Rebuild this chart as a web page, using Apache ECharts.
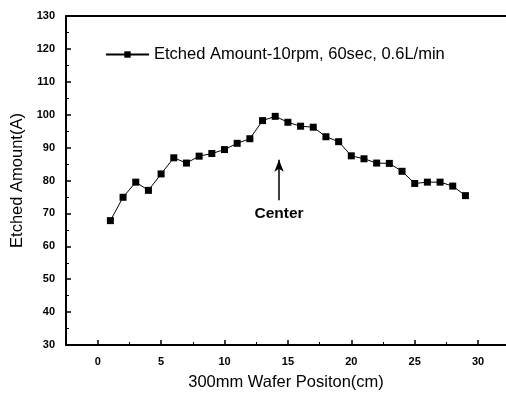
<!DOCTYPE html>
<html>
<head>
<meta charset="utf-8">
<script src="https://cdn.jsdelivr.net/npm/echarts@6/dist/echarts.min.js"></script>
<style>html,body{margin:0;padding:0;background:#fff}#c{width:506px;height:396px}</style>
</head>
<body>
<div id="c"></div>
<script>
var positions = [1,2,3,4,5,6,7,8,9,10,11,12,13,14,15,16,17,18,19,20,21,22,23,24,25,26,27,28,29];
var etched = [67.8,74.9,79.5,77.0,82.0,86.9,85.3,87.4,88.2,89.4,91.3,92.7,98.2,99.5,97.7,96.5,96.2,93.3,91.8,87.5,86.6,85.3,85.2,82.8,79.1,79.5,79.5,78.3,75.4];
var seriesName = 'Etched Amount-10rpm, 60sec, 0.6L/min';
var xMajorTicks = [0,5,10,15,20,25,30];
var xMinorTicks = [2.5,7.5,12.5,17.5,22.5,27.5];
var arrowX = 14.3, arrowFrom = 74, arrowTo = 86.3;

var chart = echarts.init(document.getElementById('c'), null, {renderer:'canvas'});
var font = 'Arial, "Liberation Sans", sans-serif';
var xMin = -2.5, xMax = 32.2;
chart.setOption({
  animation: false,
  grid: {left: 66, right: 0, top: 16, bottom: 51},
  legend: {
    left: 100, top: 41,
    itemWidth: 43, itemHeight: 8, itemGap: 2,
    textStyle: {fontFamily: font, fontSize: 16.5, color: '#000'},
    data: [seriesName]
  },
  xAxis: [{
    type: 'value', min: xMin, max: xMax, position: 'bottom',
    axisLine: {onZero: false, lineStyle: {color: '#000', width: 2}},
    axisTick: {inside: true, length: 5, lineStyle: {color: '#000', width: 1.5}, customValues: xMajorTicks},
    axisLabel: {customValues: xMajorTicks, margin: 11, color: '#000', fontFamily: font, fontSize: 11, fontWeight: 'bold'},
    splitLine: {show: false},
    name: '300mm Wafer Positon(cm)', nameLocation: 'middle', nameGap: 29,
    nameTextStyle: {fontFamily: font, fontSize: 16.5, color: '#000'}
  },{
    type: 'value', min: xMin, max: xMax, position: 'bottom',
    axisLine: {show: false, onZero: false},
    axisTick: {inside: true, length: 3, lineStyle: {color: '#000', width: 1}, customValues: xMinorTicks},
    axisLabel: {show: false},
    splitLine: {show: false}
  },{
    type: 'value', min: xMin, max: xMax, position: 'top',
    axisLine: {onZero: false, lineStyle: {color: '#000', width: 2}},
    axisTick: {show: false}, axisLabel: {show: false}, splitLine: {show: false}
  }],
  yAxis: {
    type: 'value', min: 30, max: 130, interval: 10, position: 'left',
    axisLine: {show: true, onZero: false, lineStyle: {color: '#000', width: 2}},
    axisTick: {inside: true, length: 5, lineStyle: {color: '#000', width: 1.5}},
    minorTick: {show: true, splitNumber: 2, length: 3, lineStyle: {color: '#000', width: 1}},
    axisLabel: {margin: 11, color: '#000', fontFamily: font, fontSize: 11, fontWeight: 'bold'},
    splitLine: {show: false},
    name: 'Etched Amount(A)', nameLocation: 'middle', nameGap: 38,
    nameTextStyle: {fontFamily: font, fontSize: 16.5, color: '#000'}
  },
  series: [{
    name: seriesName,
    type: 'line',
    xAxisIndex: 0,
    data: positions.map(function(p, i){ return [p, etched[i]]; }),
    symbol: 'rect', symbolSize: 7,
    itemStyle: {color: '#000'},
    lineStyle: {color: '#000', width: 1},
    markLine: {
      silent: true,
      symbol: ['none', 'arrow'],
      symbolSize: [7, 12],
      lineStyle: {color: '#000', width: 1.5, type: 'solid'},
      label: {show: true, position: 'start', formatter: 'Center', distance: 5,
              color: '#000', fontFamily: font, fontSize: 15.5, fontWeight: 'bold'},
      data: [[{coord: [arrowX, arrowFrom]}, {coord: [arrowX, arrowTo]}]]
    }
  }]
});
</script>
</body>
</html>
